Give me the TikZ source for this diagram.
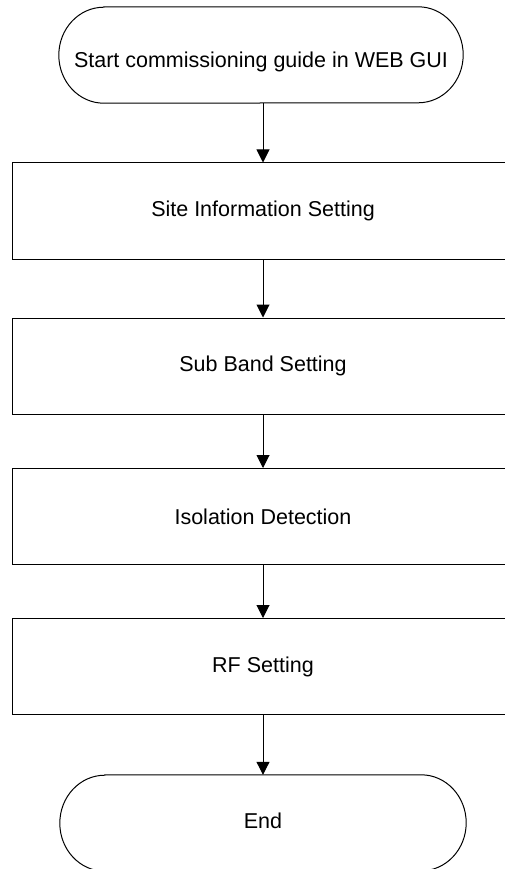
\documentclass[tikz,border=0pt]{standalone}
\usepackage{fontspec}
\setmainfont{Liberation Sans}
\usetikzlibrary{arrows.meta}

\tikzset{
  label text/.style={inner sep=0pt, font=\fontsize{21.5}{26}\selectfont},
  stepbox/.style={draw, line width=1pt, minimum width=502pt, minimum height=96pt,
                  inner sep=0pt, font=\fontsize{21.5}{26}\selectfont},
  termframe/.style={minimum width=#1, minimum height=96pt, inner sep=0pt},
  termline/.style={line width=1pt},
  flow/.style={line width=1pt, -{Triangle[length=13pt,width=13pt]}},
}

% outline of a terminator: straight top/bottom, elliptical ends
\newcommand{\terminator}[1]{%
  \draw[termline] ([xshift=45pt]#1.north west) -- ([xshift=-45pt]#1.north east)
    arc[start angle=90, end angle=-90, x radius=45pt, y radius=48pt]
    -- ([xshift=45pt]#1.south west)
    arc[start angle=270, end angle=90, x radius=45pt, y radius=48pt] -- cycle;}

\begin{document}
\begin{tikzpicture}[x=1pt, y=1pt]
  \useasboundingbox (0,0) rectangle (504,-869);

  % start terminator
  \node[termframe=404pt] (start) at (261,-55) {};
  \terminator{start}
  \node[label text] (starttext) at (261,-62) {Start commissioning guide in WEB GUI};

  % process steps
  \node[stepbox] (site)  at (263,-211) {Site Information Setting};
  \node[stepbox] (sub)   at (263,-366) {Sub Band Setting};
  \node[stepbox] (iso)   at (263,-516.5) {Isolation Detection};
  \node[stepbox] (rf)    at (263,-666.5) {RF Setting};

  % end terminator
  \node[termframe=406pt] (end) at (263,-823) {};
  \terminator{end}
  \node[label text] (endtext) at (263,-821) {End};

  % connectors
  \draw[flow] (start.south -| site.north) -- (site.north);
  \draw[flow] (site) -- (sub);
  \draw[flow] (sub) -- (iso);
  \draw[flow] (iso) -- (rf);
  \draw[flow] (rf) -- (end.north);
\end{tikzpicture}
\end{document}
